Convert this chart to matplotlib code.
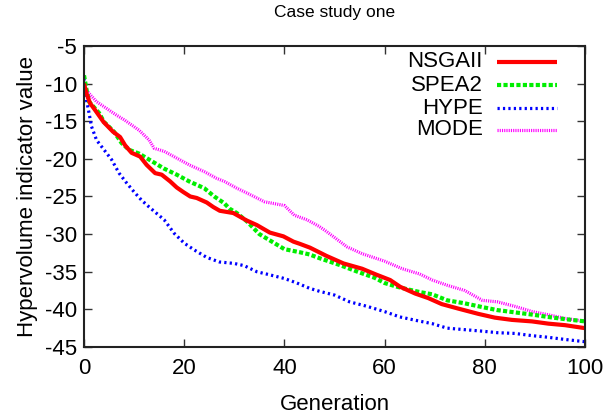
import numpy as np
import matplotlib
matplotlib.use("Agg")
import matplotlib.pyplot as plt

plt.rcParams['font.family'] = ['Liberation Sans', 'DejaVu Sans']
plt.rcParams['axes.unicode_minus'] = False

# Hypervolume indicator values, per algorithm
nsga_gen = [0, 0.5, 1.2, 2.2, 3.9, 5.8, 7.2, 8.2, 9.5, 11.2, 12.5, 14.2, 15.5, 17.2, 18.5,
            19.8, 21.2, 22.5, 24.5, 25.8, 27.1, 29.8, 32.5, 34.5, 37.1, 39.8, 41.8, 43.1,
            45.1, 48.4, 51.8, 55.5, 58.4, 61.1, 63.1, 66.1, 68.7, 71.4, 74.7, 78.7, 82.0,
            85.4, 89.4, 92.7, 96.0, 100]
nsga_val = [-10.0, -11.3, -12.6, -13.5, -15.1, -16.4, -17.1, -18.2, -19.2, -19.7, -20.8,
            -21.9, -22.1, -23.0, -23.8, -24.4, -25.0, -25.2, -25.8, -26.4, -26.9, -27.2,
            -28.2, -28.8, -29.8, -30.3, -31.0, -31.3, -31.8, -32.9, -33.9, -34.6, -35.4,
            -36.1, -37.0, -37.9, -38.5, -39.3, -39.9, -40.6, -41.1, -41.4, -41.6, -41.9,
            -42.1, -42.5]

spea_gen = [0, 0.5, 1, 3, 4, 6, 7.5, 9, 11, 13, 16, 18.5, 21, 24, 26, 28, 29, 30.5, 32.5,
            35, 38, 40, 43, 45, 47, 51, 55, 58, 60, 62.5, 65, 67, 69.5, 72.5, 76, 79.5,
            82.5, 86, 89.5, 92.5, 96, 100]
spea_val = [-8.9, -10.8, -12.4, -13.9, -15.1, -16.4, -17.9, -18.8, -19.3, -20.1, -21.3,
            -22.1, -23.0, -23.9, -25.0, -25.9, -26.6, -27.2, -28.3, -30.0, -31.2, -32.0,
            -32.4, -32.7, -33.2, -34.1, -35.1, -35.8, -36.5, -37.0, -37.4, -37.7, -38.0,
            -38.8, -39.2, -39.7, -40.1, -40.4, -40.7, -41.0, -41.3, -41.6]

hype_gen = [0, 0.5, 1, 1.5, 2.5, 4, 5.5, 7, 8.5, 10, 11.5, 13, 16, 18, 20, 22, 24.5, 27,
            30, 32, 34.5, 37, 40, 42.5, 45, 47, 50, 53, 56.5, 60, 63, 66.5, 69.5, 72.5,
            76, 79.5, 82.5, 86, 89.5, 92.5, 96, 100]
hype_val = [-9.3, -12.2, -13.9, -15.7, -17.5, -18.8, -20.1, -21.9, -23.2, -24.4, -25.5,
            -26.4, -28.1, -29.9, -31.2, -32.1, -33.1, -33.7, -33.9, -34.2, -35.0, -35.4,
            -35.9, -36.5, -37.2, -37.6, -38.1, -39.0, -39.6, -40.3, -41.0, -41.5, -41.9,
            -42.5, -42.7, -42.9, -43.1, -43.2, -43.5, -43.7, -44.0, -44.3]

mode_gen = [0, 1, 2.5, 4.5, 6.5, 8, 9.5, 11, 13, 14, 16, 18.5, 21, 24, 26.5, 28, 30.5, 33,
            36, 40, 42, 44.5, 47, 48.5, 52.5, 55.5, 60, 63.5, 67, 69.5, 72.5, 76, 79.5,
            82.5, 86, 89.5, 92.5, 96, 100]
mode_val = [-10.4, -11.3, -12.4, -13.3, -14.2, -14.8, -15.5, -16.2, -17.5, -18.6, -19.0,
            -19.9, -20.8, -21.7, -22.6, -23.0, -23.9, -24.7, -25.7, -26.2, -27.5, -28.1,
            -29.0, -29.7, -31.7, -32.6, -33.6, -34.6, -35.3, -36.1, -36.8, -37.5, -38.8,
            -39.0, -39.6, -40.3, -40.7, -41.2, -41.6]

names = ['NSGAII', 'SPEA2', 'HYPE', 'MODE']
x_ticks = [0, 20, 40, 60, 80, 100]
y_ticks = [-45, -40, -35, -30, -25, -20, -15, -10, -5]

fig = plt.figure(figsize=(6.07, 4.18), dpi=100)
ax = fig.add_axes([0.1384, 0.1699, 0.8254, 0.7201])

styles = [
    dict(color='#ff0000', lw=3.0, linestyle='-'),
    dict(color='#00ee00', lw=3.0, linestyle=(0, (1.0, 0.55))),
    dict(color='#0000ff', lw=2.3, linestyle=(0, (0.7, 1.0))),
    dict(color='#ff00ff', lw=2.3, linestyle=(0, (0.35, 0.35))),
]
series = [(nsga_gen, nsga_val), (spea_gen, spea_val), (hype_gen, hype_val), (mode_gen, mode_val)]

# draw back to front like gnuplot (first series on top)
for (g, v), st in reversed(list(zip(series, styles))):
    ax.plot(g, v, solid_capstyle='butt', dash_capstyle='butt', **st)

# gnuplot-style key: right-aligned text, sample to the right
rows = [0.948, 0.870, 0.793, 0.721]
for name, st, yk in zip(names, styles, rows):
    ax.plot([0.824, 0.944], [yk, yk], transform=ax.transAxes,
            solid_capstyle='butt', dash_capstyle='butt', **st)
    ax.text(0.796, yk, name, transform=ax.transAxes, ha='right', va='center',
            fontsize=16)

ax.set_xlim(0, 100)
ax.set_ylim(-45, -5)
ax.set_xticks(x_ticks)
ax.set_yticks(y_ticks)
ax.tick_params(direction='in', length=6, width=1.0, top=True, right=True,
               labelsize=16, color='#333333')
ax.tick_params(axis='x', pad=8)
ax.tick_params(axis='y', pad=5)
for s in ax.spines.values():
    s.set_linewidth(1.5)
    s.set_color('#222222')

ax.set_title('Case study one', fontsize=12.5, pad=21)
ax.set_xlabel('Generation', fontsize=16, labelpad=11)
ax.set_ylabel('Hypervolume indicator value', fontsize=16, labelpad=5)

fig.savefig('out.png', dpi=100)
